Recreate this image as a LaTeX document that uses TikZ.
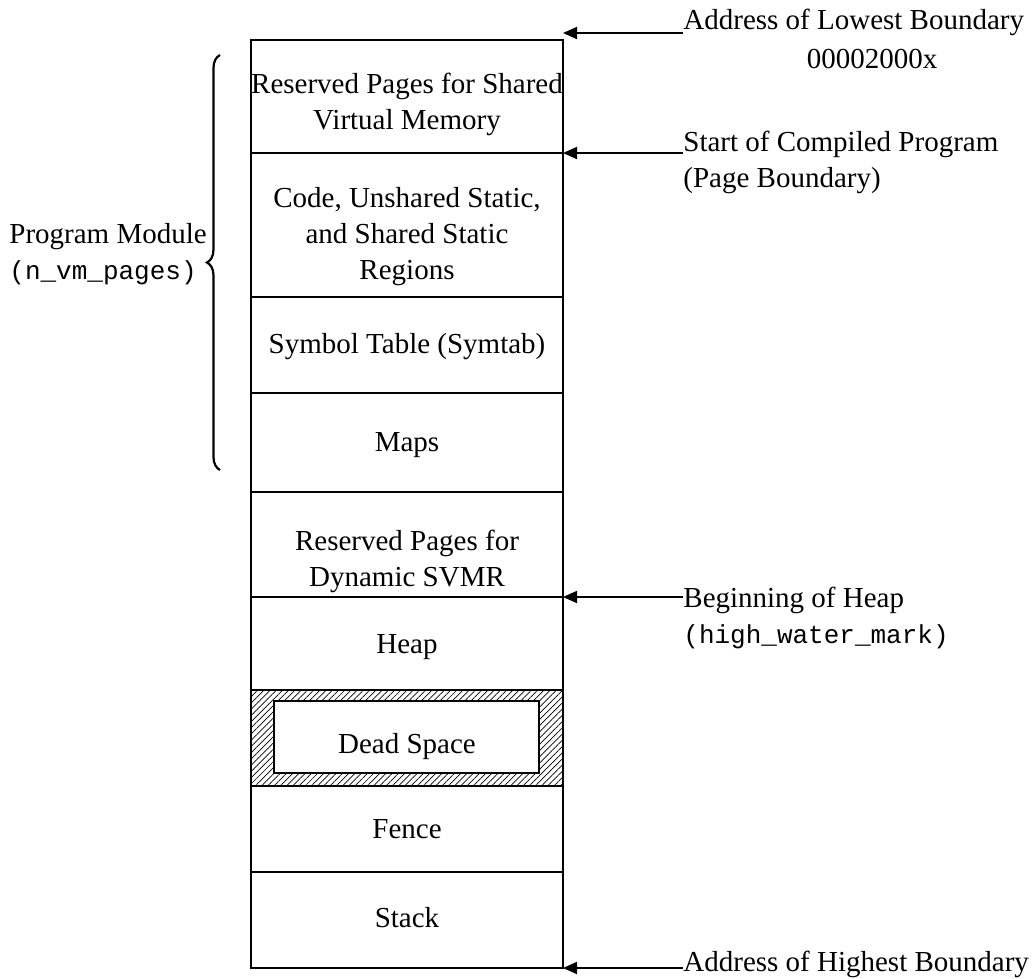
\documentclass[tikz,border=0pt]{standalone}
\usepackage{fontspec}
\setmainfont{Liberation Serif}
\setmonofont{Liberation Mono}
\usetikzlibrary{arrows.meta,patterns.meta,decorations.pathreplacing}
\newcommand\monotxt[1]{{\fontsize{13}{18}\selectfont\ttfamily #1}}
\begin{document}
\begin{tikzpicture}[x=0.5pt,y=-0.5pt,
  lbl/.style={inner sep=0pt,font=\fontsize{14.5}{18}\selectfont,align=center},
  rlbl/.style={inner sep=0pt,font=\fontsize{14.5}{18}\selectfont,anchor=west,align=left},
  wall/.style={line width=1pt},
  ptr/.style={line width=0.9pt,-{Triangle[length=7pt,width=6pt]}}]
\useasboundingbox (0,0) rectangle (1034,979);
% hatched dead space
\fill[pattern={Lines[angle=45,distance=2.2pt,line width=0.35pt]}] (251,690) rectangle (563,786);
\draw[wall,fill=white] (274,701) rectangle (539,773);
% column
\draw[wall] (251,40) rectangle (563,968);
\foreach \yy in {153,297,393,492,597,690,786,872}
  \draw[wall] (251,\yy) -- (563,\yy);
% section texts
\node[lbl] (svm) at (407,104) {Reserved Pages for Shared\\Virtual Memory};
\node[lbl] (code) at (407,237) {Code, Unshared Static,\\and Shared Static\\Regions};
\node[lbl] (sym) at (407,347) {Symbol Table (Symtab)};
\node[lbl] (maps) at (407,445) {Maps};
\node[lbl] (dyn) at (407,561) {Reserved Pages for\\Dynamic SVMR};
\node[lbl] (heap) at (407,647) {Heap};
\node[lbl] (dead) at (407,747) {Dead Space};
\node[lbl] (fence) at (407,829) {Fence};
\node[lbl] (stack) at (407,918) {Stack};
% brace
\draw[line width=1.1pt,decorate,decoration={brace,amplitude=6.5pt}] (220,470) -- (220,55);
\node[rlbl] (pm) at (9,254) {Program Module\\\monotxt{(n\_vm\_pages)}};
% right labels
\node[rlbl] (low) at (683,22) {Address of Lowest Boundary};
\node[lbl] (lowv) at (872,59) {00002000x};
\node[rlbl] (start) at (683,162) {Start of Compiled Program\\(Page Boundary)};
\node[rlbl] (beg) at (683,618) {Beginning of Heap\\\monotxt{(high\_water\_mark)}};
\node[rlbl] (high) at (683,964) {Address of Highest Boundary};
% arrows
\coordinate (a1) at (683,33); \coordinate (t1) at (563,33);
\coordinate (a2) at (683,153); \coordinate (t2) at (563,153);
\coordinate (a3) at (683,597); \coordinate (t3) at (563,597);
\coordinate (a4) at (683,968); \coordinate (t4) at (563,968);
\draw[ptr] (a1) -- (t1);
\draw[ptr] (a2) -- (t2);
\draw[ptr] (a3) -- (t3);
\draw[ptr] (a4) -- (t4);
\end{tikzpicture}
\end{document}
